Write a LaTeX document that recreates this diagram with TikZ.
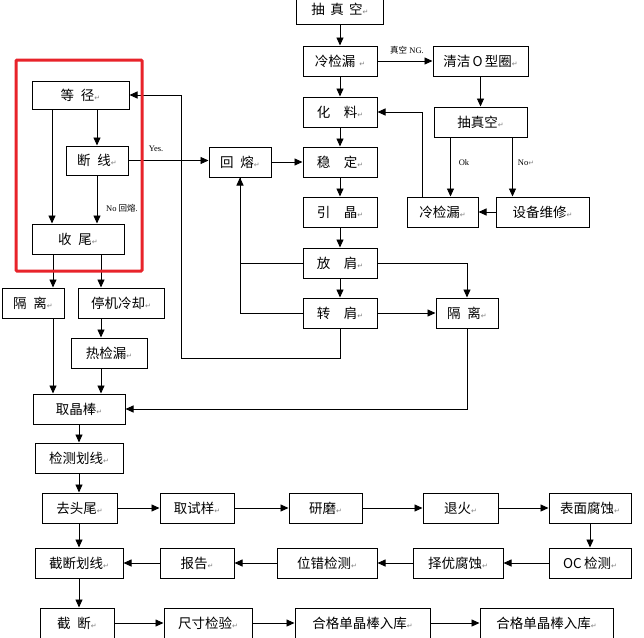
\documentclass[tikz,border=0pt]{standalone}
\usepackage{fontspec}
\setmainfont{Liberation Serif}
\newfontfamily\cjk{Noto Sans CJK SC}
\newfontfamily\symf{DejaVu Sans}
\usetikzlibrary{arrows.meta,calc}

% grey paragraph mark printed after each box text
\newcommand{\rmark}{{\symf\fontsize{7}{7}\selectfont\color{gray}↵}}

\definecolor{framered}{RGB}{232,35,42}

\tikzset{
  box/.style={draw, line width=1pt, minimum height=30pt, inner sep=0pt,
              fill=white, font=\cjk\fontsize{13.5}{13.5}\selectfont},
  arr/.style={-{Triangle[length=8pt,width=7pt]}, line width=0.9pt},
  ln/.style={line width=0.9pt},
  lab/.style={font=\fontsize{8.5}{8.5}\selectfont, inner sep=0pt},
}

\begin{document}
\begin{tikzpicture}[x=1pt,y=-1pt]
\useasboundingbox (0,0) rectangle (644,637);
\fill[white] (0,0) rectangle (644,637);

% ---- crystal growth column ----
\node[box, minimum width=87pt] (vacA) at (340,9) {抽\hspace{0.4em}真\hspace{0.4em}空\rmark};
\node[box, minimum width=74pt] (coldA) at (340,61) {冷检漏\hspace{0.3em}\rmark};
\node[box, minimum width=74pt] (melt) at (340,112) {化\hspace{1em}料\rmark};
\node[box, minimum width=74pt] (stab) at (340,162) {稳\hspace{1em}定\rmark};
\node[box, minimum width=74pt] (seed) at (340,212) {引\hspace{1em}晶\rmark};
\node[box, minimum width=74pt] (shld) at (340,263) {放\hspace{1em}肩\rmark};
\node[box, minimum width=74pt] (turn) at (340,313) {转\hspace{1em}肩\rmark};

% ---- leak repair loop ----
\node[box, minimum width=95pt] (clean) at (480.5,61) {清洁\,O\,型圈\rmark};
\node[box, minimum width=93pt] (vacB) at (480.5,122) {抽真空\rmark};
\node[box, minimum width=71pt] (coldB) at (442.5,212) {冷检漏\rmark};
\node[box, minimum width=93pt] (repair) at (542.5,212) {设备维修\rmark};
\node[box, minimum width=62pt] (sepR) at (467,313) {隔\hspace{0.5em}离\rmark};

% ---- body growth and finishing ----
\node[box, minimum width=97pt, minimum height=28pt] (dia) at (80.5,95) {等\hspace{0.5em}径\rmark};
\node[box, minimum width=62pt, minimum height=29pt] (brk) at (97,160.5) {断\hspace{0.5em}线\rmark};
\node[box, minimum width=62pt] (remelt) at (240,162) {回\hspace{0.5em}熔\rmark};
\node[box, minimum width=92pt] (tail) at (78,239) {收\hspace{0.5em}尾\rmark};
\node[box, minimum width=62pt] (sepL) at (33,303) {隔\hspace{0.5em}离\rmark};
\node[box, minimum width=86pt] (stop) at (121,303) {停机冷却\rmark};
\node[box, minimum width=76pt] (hot) at (109,353) {热检漏\rmark};
\node[box, minimum width=92pt] (take) at (79,409) {取晶棒\rmark};
\node[box, minimum width=88pt] (insp) at (79,458) {检测划线\rmark};

% ---- sample testing ----
\node[box, minimum width=75pt] (trim) at (79.5,508) {去头尾\rmark};
\node[box, minimum width=74pt] (sample) at (197,508) {取试样\rmark};
\node[box, minimum width=73pt] (grind) at (325.5,508) {研磨\rmark};
\node[box, minimum width=75pt] (anneal) at (460.5,508) {退火\rmark};
\node[box, minimum width=82pt] (etch) at (590,508) {表面腐蚀\rmark};
\node[box, minimum width=82pt] (oc) at (590,563) {OC\,检测\rmark};
\node[box, minimum width=90pt] (pref) at (458,563) {择优腐蚀\rmark};
\node[box, minimum width=100pt] (disl) at (327,563) {位错检测\rmark};
\node[box, minimum width=74pt] (report) at (197,563) {报告\rmark};
\node[box, minimum width=88pt] (mark) at (79,563) {截断划线\rmark};
\node[box, minimum width=74pt] (cut) at (77,623) {截\hspace{0.5em}断\rmark};
\node[box, minimum width=88pt] (size) at (208,623) {尺寸检验\rmark};
\node[box, minimum width=135pt] (okA) at (362.5,623) {合格单晶棒入库\rmark};
\node[box, minimum width=133pt] (okB) at (546.5,623) {合格单晶棒入库\rmark};

% ---- connectors: main column ----
\draw[arr] (vacA) -- (coldA);
\draw[arr] (coldA) -- (melt);
\draw[arr] (coldA) -- (clean);
\node[lab] (ngl) at (407,50) {{\cjk 真空} NG.};
\draw[arr] (melt) -- (stab);
\draw[arr] (stab) -- (seed);
\draw[arr] (seed) -- (shld);
\draw[arr] (shld) -- (turn);

% ---- connectors: leak repair loop ----
\draw[arr] (clean) -- (vacB);
\path ([xshift=-30pt]vacB.south) coordinate (okT)
      ([xshift=32pt]vacB.south) coordinate (noT)
      ([xshift=-20.5pt]coldB.north) coordinate (retT);
\draw[arr] (okT) -- (okT |- coldB.north);
\node[lab] (okl) at (464,163) {Ok};
\draw[arr] (noT) -- (noT |- repair.north);
\node[lab] (nol) at (526,163) {No\rmark};
\draw[arr] (repair) -- (coldB);
\draw[arr] (retT) |- (melt.east);

% ---- connectors: remelt and separation ----
\draw[arr] (brk.east) -- (brk.east -| remelt.west);
\node[lab] (yesl) at (156,149) {Yes.};
\draw[arr] (remelt.east) -- (remelt.east -| stab.west);
\draw[arr] (shld.west) -| (remelt.south);
\draw[ln] (turn.west) -| (remelt.south);
\draw[arr] (shld.east) -| (sepR.north);
\draw[arr] (turn) -- (sepR);
\draw[arr] (sepR.south) |- (take.east);
\coordinate (loopC) at (181,358);
\draw[arr] (turn.south) |- (loopC) |- (dia.east);

% ---- connectors: left column ----
\path ([xshift=-28.5pt]dia.south) coordinate (d1)
      ([xshift=-25pt]tail.south) coordinate (t1)
      ([xshift=23pt]tail.south) coordinate (t2);
\draw[arr] (dia.south -| brk.north) -- (brk.north);
\draw[arr] (d1) -- (d1 |- tail.north);
\draw[arr] (brk.south) -- (brk.south |- tail.north);
\node[lab, anchor=west] (nrl) at (106,208) {No {\cjk 回熔}.};
\draw[arr] (t1) -- (t1 |- sepL.north);
\draw[arr] (t2) -- (t2 |- stop.north);
\draw[arr] (t2 |- stop.south) -- (t2 |- hot.north);
\draw[arr] (t1 |- sepL.south) -- (t1 |- take.north);
\draw[arr] (t2 |- hot.south) -- (t2 |- take.north);
\draw[arr] (take) -- (insp);
\draw[arr] (insp) -- (insp.south |- trim.north);
\draw[arr] (trim.south -| insp.south) -- (insp.south |- mark.north);
\draw[arr] (mark.south) -- (mark.south |- cut.north);

% ---- connectors: testing rows ----
\draw[arr] (trim) -- (sample);
\draw[arr] (sample) -- (grind);
\draw[arr] (grind) -- (anneal);
\draw[arr] (anneal) -- (etch);
\draw[arr] (etch) -- (oc);
\draw[arr] (oc) -- (pref);
\draw[arr] (pref) -- (disl);
\draw[arr] (disl) -- (report);
\draw[arr] (report) -- (mark);
\draw[arr] (cut) -- (size);
\draw[arr] (size) -- (okA);
\draw[arr] (okA) -- (okB);

% highlight frame round the body-growth group
\draw[framered, line width=3pt, rounded corners=1pt] (16,60) rectangle (142,271);
\end{tikzpicture}
\end{document}
